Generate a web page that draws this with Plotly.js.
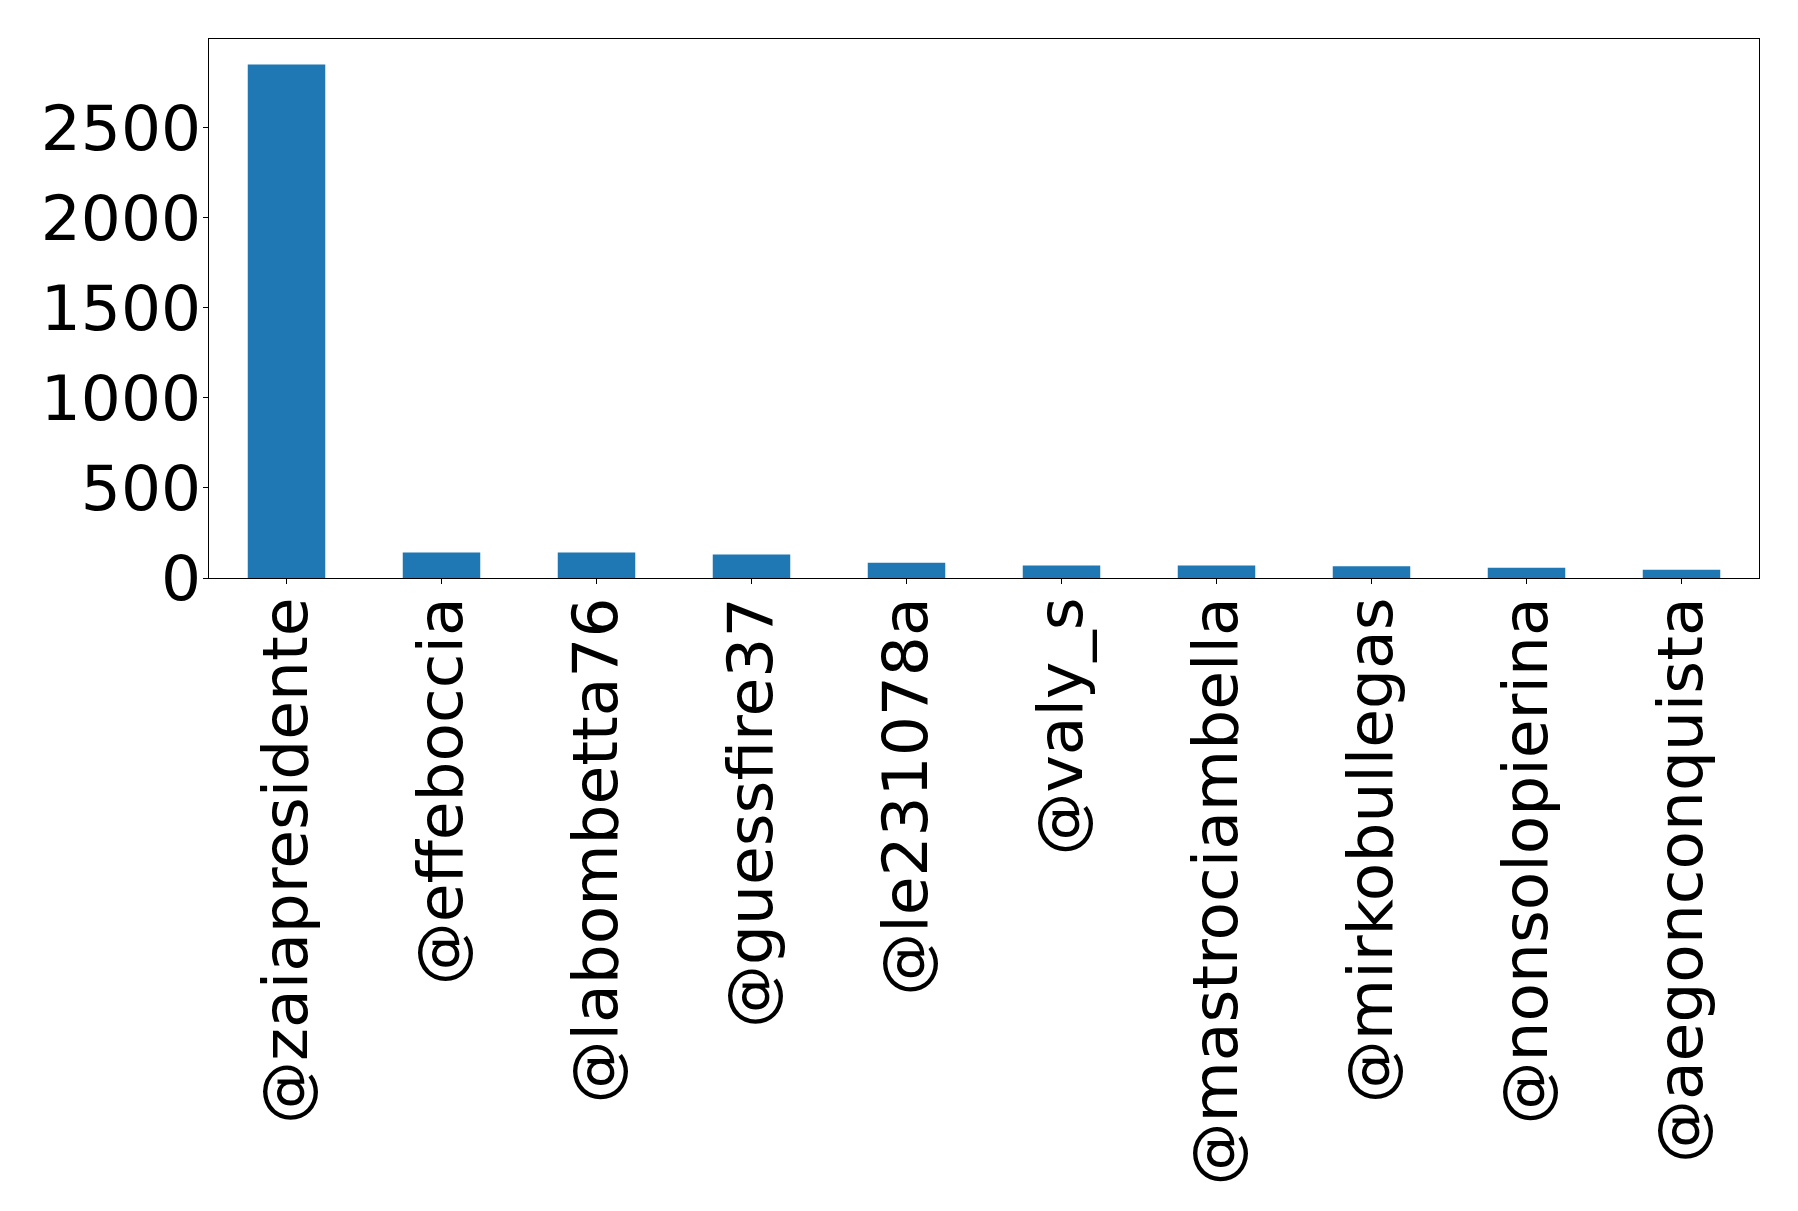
<!DOCTYPE html>
<html>
<head>
<meta charset="utf-8">
<script src="https://cdn.plot.ly/plotly-3.0.1.min.js"></script>
<style>
  html, body { margin: 0; padding: 0; background: #fff; }
  #chart { width: 1798px; height: 1211px; }
</style>
</head>
<body>
<div id="chart"></div>
<script>
// mention counts per user
const users = [
  '@zaiapresidente', '@effeboccia', '@labombetta76', '@guessfire37', '@le231078a',
  '@valy_s', '@mastrociambella', '@mirkobullegas', '@nonsolopierina', '@aegonconquista'
];
const counts = [2853, 141, 141, 130, 85, 70, 70, 65, 57, 46];
const yTicks = [0, 500, 1000, 1500, 2000, 2500];

const trace = {
  x: users,
  y: counts,
  type: 'bar',
  width: 0.5,
  marker: { color: '#1f77b4' },
  hoverinfo: 'x+y',
};

const tickFont = { family: 'DejaVu Sans', size: 63, color: '#000' };

const layout = {
  width: 1798,
  height: 1211,
  margin: { l: 209, r: 39, t: 39, b: 633 },
  paper_bgcolor: '#fff',
  plot_bgcolor: '#fff',
  showlegend: false,
  xaxis: {
    type: 'category',
    range: [-0.5, 9.5],
    tickangle: -90,
    tickfont: tickFont,
    ticks: 'outside',
    ticklen: 5,
    tickwidth: 1,
    tickcolor: '#000',
    ticklabelstandoff: -12,
    showline: true,
    linecolor: '#000',
    linewidth: 1.3,
    mirror: true,
    showgrid: false,
    zeroline: false,
  },
  yaxis: {
    range: [0, 2994],
    tickvals: yTicks,
    ticktext: yTicks.map(String),
    tickfont: tickFont,
    ticks: 'outside',
    ticklen: 5,
    tickwidth: 1,
    tickcolor: '#000',
    ticklabelstandoff: -11,
    showline: true,
    linecolor: '#000',
    linewidth: 1.3,
    mirror: true,
    showgrid: false,
    zeroline: false,
  },
};

Plotly.newPlot('chart', [trace], layout, { displayModeBar: false, staticPlot: true });
</script>
</body>
</html>
